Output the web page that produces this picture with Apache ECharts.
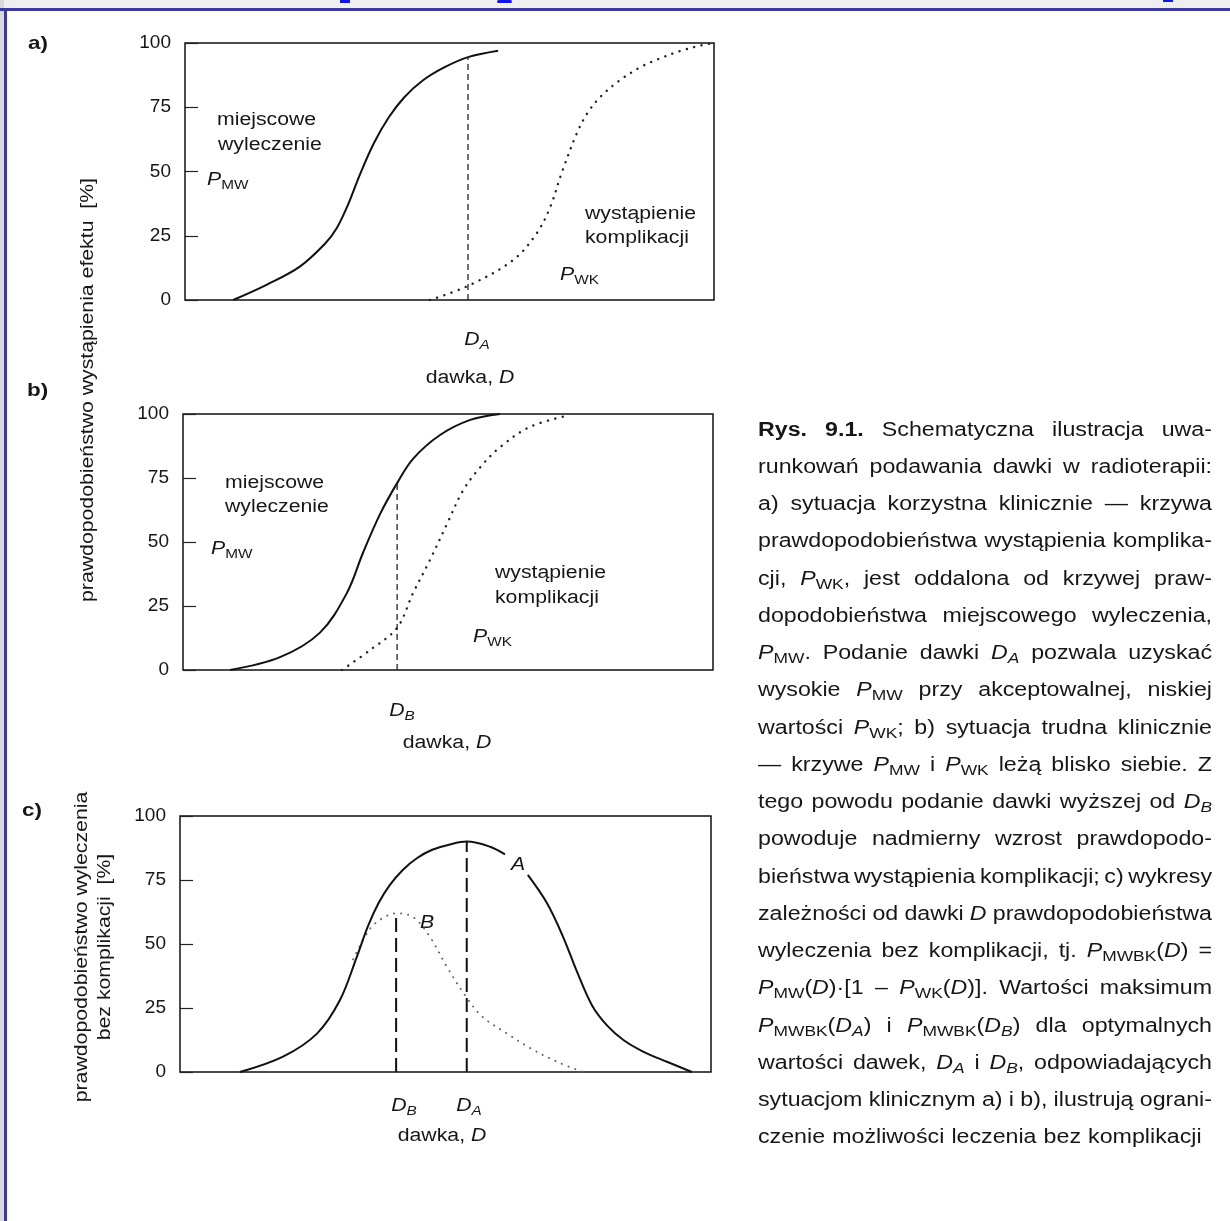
<!DOCTYPE html>
<html>
<head>
<meta charset="utf-8">
<script src="https://cdn.jsdelivr.net/npm/echarts@6/dist/echarts.min.js"></script>
<style>
html, body { margin: 0; padding: 0; background: #fff; }
#container { width: 1230px; height: 1221px; }
</style>
</head>
<body>
<div id="container"></div>
<script>
// y ticks shared by the three panels
var yMin = 0, yMax = 100, yStep = 25;

// a) P_MW (solid) and P_WK (dotted), dose in % of the x range
var mwA = [[9.1,0],[15.5,6],[21.7,13],[26.5,22],[28.7,28],[30.8,37],[33.1,49],[35.7,61],[38.5,71],[41.5,79],[45,85.5],[49,90.5],[53.5,94.5],[59.2,97]];
var wkA = [[46.3,0],[53.5,5.5],[62,15.5],[66.5,26],[69,36],[71.3,50],[74.1,65],[76,72.5],[78.5,79],[82.2,85.5],[86,90.5],[89.2,93.5],[93.5,96.8],[97.4,99],[100,100]];
var doseA = 53.5, doseAtop = 94.5;

// b) curves lying close together
var mwB = [[8.9,0],[18.3,5],[25.8,14.5],[30.9,30],[34,46],[37.2,61],[40.4,73],[43.4,82.5],[48.5,91.8],[54.2,97.7],[59.8,100]];
var wkB = [[30,0],[35.3,7.8],[40.4,16.5],[43.4,30],[46.6,43],[49.8,57],[52.8,70],[56,79],[59.8,87],[65.5,95],[73,99.6]];
var doseB = 40.4, doseBtop = 73;

// c) P_MWBK for situation A (solid, gap at label) and B (dotted)
var curveA = [[11.3,0],[19.4,6],[25.8,15],[30.1,28],[33.3,45],[35.4,57],[37.4,66],[39.5,73],[42,79],[44.6,83.5],[47.5,86.8],[51,89],[54,90],[58.4,88],[61.2,85],[63.4,'-'],[65.5,77],[69.1,66],[72.1,53],[74.8,39],[77.6,26],[80.5,18],[83.5,12.5],[87.2,8],[91.7,4],[96.4,0]];
var curveB = [[32.6,44],[35.8,56],[38.5,60.5],[40.7,62],[43.9,60.5],[47,53],[50.3,41],[54,29],[57,21.5],[61.6,15],[65.9,9.4],[71,4],[75.9,0]];
var peakDoseA = 54, peakA = 90;
var peakDoseB = 40.7, peakB = 62;

var caption = [
  '{b:Rys.} {b:9.1.} Schematyczna ilustracja uwa-',
  'runkowań podawania dawki w radioterapii:',
  'a) sytuacja korzystna klinicznie — krzywa',
  'prawdopodobieństwa wystąpienia komplika-',
  'cji, {i:P}{s:WK}, jest oddalona od krzywej praw-',
  'dopodobieństwa miejscowego wyleczenia,',
  '{i:P}{s:MW}. Podanie dawki {i:D}{si:A} pozwala uzyskać',
  'wysokie {i:P}{s:MW} przy akceptowalnej, niskiej',
  'wartości {i:P}{s:WK}; b) sytuacja trudna klinicznie',
  '— krzywe {i:P}{s:MW} i {i:P}{s:WK} leżą blisko siebie. Z',
  'tego powodu podanie dawki wyższej od {i:D}{si:B}',
  'powoduje nadmierny wzrost prawdopodo-',
  'bieństwa wystąpienia komplikacji; c) wykresy',
  'zależności od dawki {i:D} prawdopodobieństwa',
  'wyleczenia bez komplikacji, tj. {i:P}{s:MWBK}({i:D}) =',
  '{i:P}{s:MW}({i:D})·[1 – {i:P}{s:WK}({i:D})]. Wartości maksimum',
  '{i:P}{s:MWBK}({i:D}{si:A}) i {i:P}{s:MWBK}({i:D}{si:B}) dla optymalnych',
  'wartości dawek, {i:D}{si:A} i {i:D}{si:B}, odpowiadających',
  'sytuacjom klinicznym a) i b), ilustrują ograni-',
  'czenie możliwości leczenia bez komplikacji'
];

var FAM = '"Liberation Sans", Arial, sans-serif';
var INK = '#161616';
var SX = 1.18;
var ctx = document.createElement('canvas').getContext('2d');
var gfx = [];

function parseWord(w) {
  var runs = [], re = /\{(\w+):([^}]*)\}|([^{]+)/g, m;
  while ((m = re.exec(w))) {
    if (m[3]) runs.push({ t: m[3] });
    else runs.push({ t: m[2], it: m[1].indexOf('i') >= 0, b: m[1] === 'b', sub: m[1].indexOf('s') >= 0 });
  }
  return runs;
}
function fontOf(r, fs) {
  return (r.it ? 'italic ' : '') + (r.b ? 'bold ' : '') + Math.round(r.sub ? fs * 0.74 : fs) + 'px ' + FAM;
}
function runsWidth(runs, fs, sx) {
  var w = 0;
  runs.forEach(function (r) { ctx.font = fontOf(r, fs); w += ctx.measureText(r.t).width * sx; });
  return w;
}
function putRuns(x, y, runs, fs, sx, align) {
  if (align === 'center') x -= runsWidth(runs, fs, sx) / 2;
  runs.forEach(function (r) {
    var f = fontOf(r, fs);
    gfx.push({ type: 'text', x: x, y: y + (r.sub ? fs * 0.28 : 0), scaleX: sx, silent: true,
      style: { text: r.t, font: f, fill: INK, textAlign: 'left', textVerticalAlign: 'middle' } });
    ctx.font = f;
    x += ctx.measureText(r.t).width * sx;
  });
}
function label(x, y, str, align, fs) {
  putRuns(x, y, parseWord(str), fs || 18, SX, align);
}
function vlabel(x, y, str) {
  gfx.push({ type: 'text', x: x, y: y, rotation: Math.PI / 2, scaleX: SX, silent: true,
    style: { text: str, font: '18px ' + FAM, fill: INK, textAlign: 'center', textVerticalAlign: 'middle' } });
}

// page frame
gfx.push({ type: 'rect', shape: { x: 0, y: 0, width: 1230, height: 9 }, style: { fill: '#eeefee' }, silent: true });
gfx.push({ type: 'rect', shape: { x: 0, y: 0, width: 4, height: 1221 }, style: { fill: '#d8d8dd' }, silent: true });
gfx.push({ type: 'rect', shape: { x: 0, y: 8, width: 1230, height: 3 }, style: { fill: '#3a3a9e' }, silent: true });
gfx.push({ type: 'rect', shape: { x: 4, y: 8, width: 3, height: 1213 }, style: { fill: '#3a3a9e' }, silent: true });
gfx.push({ type: 'rect', shape: { x: 340, y: 0, width: 10, height: 3 }, style: { fill: '#1414f0' }, silent: true });
gfx.push({ type: 'rect', shape: { x: 497, y: 0, width: 15, height: 3, r: 2 }, style: { fill: '#1414f0' }, silent: true });
gfx.push({ type: 'rect', shape: { x: 1163, y: 0, width: 10, height: 2 }, style: { fill: '#1414f0' }, silent: true });

// panel letters
label(28, 44, '{b:a)}', 'left', 19);
label(27, 391, '{b:b)}', 'left', 19);
label(22, 811, '{b:c)}', 'left', 19);

// y axis names
vlabel(88, 390, 'prawdopodobieństwo wystąpienia efektu  [%]');
vlabel(82, 947, 'prawdopodobieństwo wyleczenia');
vlabel(105, 947, 'bez komplikacji  [%]');

// a)
label(217, 120, 'miejscowe', 'left');
label(218, 145, 'wyleczenie', 'left');
label(207, 180, '{i:P}{s:MW}', 'left');
label(585, 214, 'wystąpienie', 'left');
label(585, 238, 'komplikacji', 'left');
label(560, 275, '{i:P}{s:WK}', 'left');
label(477, 340, '{i:D}{si:A}', 'center');
label(470, 378, 'dawka, {i:D}', 'center');

// b)
label(225, 483, 'miejscowe', 'left');
label(225, 507, 'wyleczenie', 'left');
label(211, 549, '{i:P}{s:MW}', 'left');
label(495, 573, 'wystąpienie', 'left');
label(495, 598, 'komplikacji', 'left');
label(473, 637, '{i:P}{s:WK}', 'left');
label(402, 711, '{i:D}{si:B}', 'center');
label(447, 743, 'dawka, {i:D}', 'center');

// c)
label(518, 865, '{i:A}', 'center');
label(427, 923, '{i:B}', 'center');
label(404, 1106, '{i:D}{si:B}', 'center');
label(469, 1106, '{i:D}{si:A}', 'center');
label(442, 1136, 'dawka, {i:D}', 'center');

// justified caption
var CAP_X = 758, CAP_W = 454, CAP_Y = 430, CAP_DY = 37.25, CAP_FS = 20, CAP_SX = 1.16;
ctx.font = CAP_FS + 'px ' + FAM;
var spaceW = ctx.measureText(' ').width * CAP_SX;
caption.forEach(function (line, i) {
  var words = line.split(' ').map(parseWord);
  var ws = words.map(function (w) { return runsWidth(w, CAP_FS, CAP_SX); });
  var total = ws.reduce(function (a, b) { return a + b; }, 0);
  var last = i === caption.length - 1;
  var gap = last ? spaceW * 1.1 : (CAP_W - total) / (words.length - 1);
  var x = CAP_X, y = CAP_Y + i * CAP_DY;
  words.forEach(function (w, k) {
    putRuns(x, y, w, CAP_FS, CAP_SX, 'left');
    x += ws[k] + gap;
  });
});

var dom = document.getElementById('container');
var myChart = echarts.init(dom);

var grids = [
  { left: 185, top: 43, width: 529, height: 257 },
  { left: 183, top: 414, width: 530, height: 256 },
  { left: 180, top: 816, width: 531, height: 256 }
];

function xAx(i) {
  return { type: 'value', gridIndex: i, min: 0, max: 100, axisLine: { show: false },
    axisTick: { show: false }, axisLabel: { show: false }, splitLine: { show: false } };
}
function yAx(i) {
  return { type: 'value', gridIndex: i, min: yMin, max: yMax, interval: yStep,
    axisLine: { show: false },
    axisTick: { show: true, inside: true, length: 13, lineStyle: { color: '#222', width: 1.2 } },
    axisLabel: { fontSize: 19, color: '#151515', margin: 14, fontFamily: FAM },
    splitLine: { show: false } };
}
function line(gi, data, style, smooth) {
  return { type: 'line', xAxisIndex: gi, yAxisIndex: gi, data: data, smooth: smooth === false ? false : 0.35,
    symbol: 'none', silent: true, connectNulls: false, lineStyle: style, z: 3 };
}
var solid = { color: '#111', width: 2 };
var dotted = { color: '#222', width: 2.4, type: [0.1, 7.5], cap: 'round' };
var dottedC = { color: '#666', width: 2, type: [0.1, 7], cap: 'round' };
var thinDash = { color: '#222', width: 1.3, type: [6, 4] };
var thickDash = { color: '#111', width: 2, type: [14, 6] };

option = {
  animation: false,
  backgroundColor: '#fff',
  grid: grids.map(function (g) {
    return Object.assign({ show: true, borderColor: '#111', borderWidth: 1.5, backgroundColor: 'transparent' }, g);
  }),
  xAxis: [xAx(0), xAx(1), xAx(2)],
  yAxis: [yAx(0), yAx(1), yAx(2)],
  series: [
    line(0, wkA, dotted),
    line(0, mwA, solid),
    line(0, [[doseA, 0], [doseA, doseAtop]], thinDash, false),
    line(1, wkB, dotted),
    line(1, mwB, solid),
    line(1, [[doseB, 0], [doseB, doseBtop]], thinDash, false),
    line(2, curveB, dottedC),
    line(2, curveA, solid),
    line(2, [[peakDoseB, 0], [peakDoseB, peakB]], thickDash, false),
    line(2, [[peakDoseA, 0], [peakDoseA, peakA]], thickDash, false)
  ],
  graphic: { elements: gfx }
};

if (option && typeof option === "object") {
  myChart.setOption(option, true);
}
</script>
</body>
</html>
